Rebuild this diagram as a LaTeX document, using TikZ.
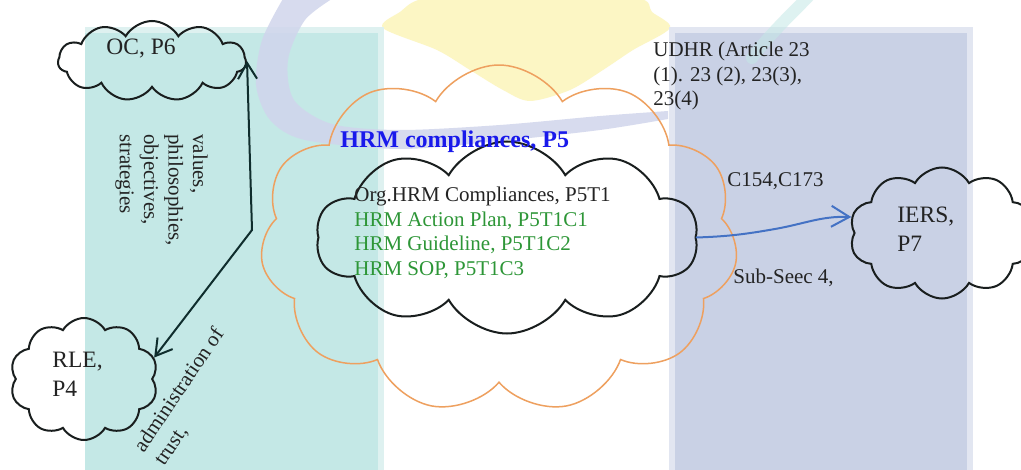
\documentclass[tikz,border=0pt]{standalone}
\usepackage{fontspec}
\setmainfont{Liberation Serif}
\usetikzlibrary{
	arrows.meta,
	shapes.symbols,
}
\definecolor{panelteal}{RGB}{196,232,230}
\definecolor{paneltealedge}{RGB}{222,241,240}
\definecolor{panellav}{RGB}{201,209,229}
\definecolor{panellavedge}{RGB}{226,230,241}
\definecolor{blobyellow}{RGB}{252,246,196}
\definecolor{bandlav}{RGB}{208,213,236}
\definecolor{cloudline}{RGB}{25,30,30}
\definecolor{cloudorange}{RGB}{238,160,95}
\definecolor{arrowdark}{RGB}{15,45,45}
\definecolor{arrowblue}{RGB}{68,114,196}
\definecolor{textgrey}{RGB}{35,35,35}
\definecolor{textgreen}{RGB}{45,150,55}
\definecolor{textblue}{RGB}{25,25,235}
\tikzset{puff/.style={
		% The shape:
		cloud,
		cloud puffs=10,
		cloud puff arc=120,
		cloud ignores aspect,
		inner sep=0pt,
		% The border:
		line width=1pt,
		draw=cloudline,
}}
\tikzset{bigpuff/.style={
		puff,
		cloud puffs=11,
		% The border:
		line width=0.75pt,
		draw=cloudorange,
}}
\tikzset{plain/.style={
		inner sep=0pt,
		text=textgrey,
		align=left,
		font=\fontsize{10.5}{12.2}\selectfont,
}}
\tikzset{cloudtext/.style={
		plain,
		font=\fontsize{11.75}{14.25}\selectfont,
}}

\begin{document}
\begin{tikzpicture}[
	x=0.5pt, y=-0.5pt,
	>={Straight Barb[length=8pt,width=9.5pt]},
	line cap=round,
	]
	
	%% page and background
	\fill[white] (0,0) rectangle (1021,470);
	\useasboundingbox (0,0) rectangle (1021,470);
	\fill[blobyellow] plot[smooth cycle] coordinates {(530,-8) (637,-2) (652,12) (670,28) (633,50) (603,70) (570,90) (530,101) (503,90) (470,70) (437,50) (383,28) (400,12) (427,-2)};
	\fill[paneltealedge] (85,27) rectangle (384,470);
	\fill[panelteal] (85,33) rectangle (378,470);
	\fill[panellavedge] (669,27) rectangle (973,470);
	\fill[panellav] (675,33) rectangle (967,470);
	\fill[bandlav,opacity=0.85] plot[smooth] coordinates {(284,-3) (262,40) (256,85) (270,120) (305,140) (400,149) (500,141) (600,130) (668,119)}
		-- plot[smooth] coordinates {(668,111) (600,116) (500,125) (400,130) (332,124) (294,100) (288,60) (305,20) (335,-3)} -- cycle;
	\draw[panelteal,line width=6pt,opacity=0.55] (808,-3) .. controls (785,20) and (765,40) .. (752,58);
	
	%% clouds
	\node (big) [bigpuff,minimum width=239pt,minimum height=174pt] at (499,239) {};
	\node (inner) [puff,minimum width=191pt,minimum height=96pt] at (507,237.5) {};
	\node (oc) [puff,cloud puffs=11,minimum width=94pt,minimum height=40pt] at (152,61) {};
	\node (rle) [puff,minimum width=74pt,minimum height=61pt] at (84,379) {};
	\node (iers) [puff,minimum width=92.5pt,minimum height=65.5pt] at (942,233) {};
	
	%% cloud labels
	\node (octxt) [cloudtext,anchor=west] at (106,49) {OC, P6};
	\node (rletxt) [cloudtext,anchor=north west] at (52,352) {RLE,\\P4};
	\node (ierstxt) [cloudtext,anchor=north west] at (897,207) {IERS,\\P7};
	\node (hrmtxt) [plain,anchor=west,text=textblue,font=\fontsize{12}{14}\selectfont\bfseries] at (340,142) {HRM compliances, P5};
	\node (innertxt) [plain,anchor=north west,font=\fontsize{10.5}{12.25}\selectfont] at (354,187) {Org.HRM Compliances, P5T1\\
		\textcolor{textgreen}{HRM Action Plan, P5T1C1}\\
		\textcolor{textgreen}{HRM Guideline, P5T1C2}\\
		\textcolor{textgreen}{HRM SOP, P5T1C3}};
	
	%% side texts
	\node (udhr) [plain,anchor=north west] at (653,42) {UDHR (Article 23\\(1). 23 (2), 23(3),\\23(4)};
	\node (conv) [plain,anchor=west] at (727,181) {C154,C173};
	\node (subsec) [plain,anchor=west] at (733,278) {Sub-Seec 4,};
	\node (values) [plain,rotate=-90,anchor=north west] at (208,134) {values,\\philosophies,\\objectives,\\strategies};
	\node (trust) [plain,rotate=56,anchor=west] at (149,457) {administration of\\trust,};
	
	%% connectors
	\coordinate (hub) at (252,230);
	\coordinate (kink) at (775,229);
	\draw[->,arrowdark,line width=1pt] (hub) to (oc.east);
	\draw[->,arrowdark,line width=1pt] (hub) to (rle.17);
	\draw[->,arrowblue,line width=1pt,>={Straight Barb[length=9pt,width=10.5pt]}] (inner.east) to[out=2,in=190] (kink) to[out=10,in=178] (iers.170);
	
\end{tikzpicture}
\end{document}
